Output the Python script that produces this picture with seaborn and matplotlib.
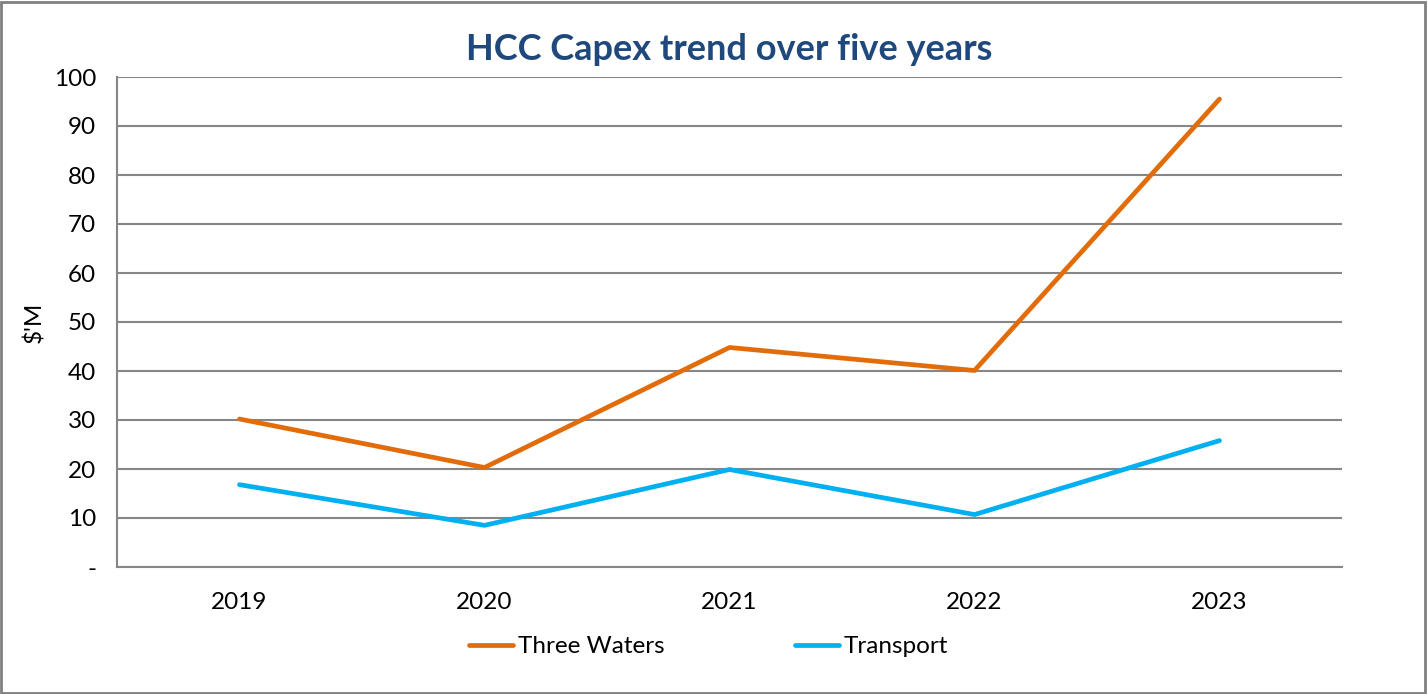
import numpy as np
import pandas as pd
import seaborn as sns
import matplotlib.pyplot as plt
from matplotlib.patches import Rectangle

years = ['2019', '2020', '2021', '2022', '2023']
three_waters = [30.2, 20.3, 44.8, 40.1, 95.5]
transport = [16.8, 8.5, 19.9, 10.7, 25.8]
y_ticks = [0, 10, 20, 30, 40, 50, 60, 70, 80, 90, 100]
y_labels = ['-'] + [str(v) for v in y_ticks[1:]]

df = pd.DataFrame({
    'year': years * 2,
    'value': three_waters + transport,
    'series': ['Three Waters'] * 5 + ['Transport'] * 5,
})

sns.set_style('white')
plt.rcParams['font.family'] = ['Lato', 'DejaVu Sans']
plt.rcParams['text.color'] = 'black'
plt.rcParams['xtick.color'] = 'black'
plt.rcParams['ytick.color'] = 'black'
plt.rcParams['axes.labelcolor'] = 'black'

fig = plt.figure(figsize=(14.28, 6.94), dpi=100)
ax = fig.add_axes([117 / 1428, 1 - 567 / 694, (1342 - 117) / 1428, (567 - 77) / 694])

grid_col = '#868686'
palette = {'Three Waters': '#E36C0A', 'Transport': '#00B0F0'}
sns.lineplot(data=df, x='year', y='value', hue='series', palette=palette,
             linewidth=3.4, ax=ax, sort=False)

ax.set_ylim(0, 100)
ax.set_xlim(-0.5, 4.5)
ax.set_yticks(y_ticks)
ax.set_yticklabels(y_labels, fontsize=17.5)
ax.yaxis.grid(True, color=grid_col, linewidth=1.5)
ax.set_axisbelow(True)

ax.set_xticks(np.arange(-0.5, 5, 1))
ax.set_xticklabels([])
ax.set_xticks(range(len(years)), minor=True)
ax.set_xticklabels(years, minor=True, fontsize=17.5)
ax.tick_params(axis='x', which='major', direction='out', length=9, width=1.5, color=grid_col)
ax.tick_params(axis='x', which='minor', length=0, pad=18)
ax.tick_params(axis='y', direction='out', length=9, width=1.5, color=grid_col, pad=6)

for side in ['top', 'right']:
    ax.spines[side].set_visible(False)
for side in ['left', 'bottom']:
    ax.spines[side].set_color(grid_col)
    ax.spines[side].set_linewidth(1.5)

ax.set_xlabel('')
ax.set_ylabel("$'M", fontsize=17.5, labelpad=6)
ax.set_title('HCC Capex trend over five years', fontsize=26, fontweight='bold',
             color='#1F497D', pad=12)

leg = ax.legend(loc='upper center', bbox_to_anchor=(0.483, -0.097), ncol=2, frameon=False,
                fontsize=17.5, handlelength=1.8, handletextpad=0.2, columnspacing=5.4)
for line in leg.get_lines():
    line.set_linewidth(3.4)

fig.patches.append(Rectangle((0.001, 0.002), 0.997, 0.995, transform=fig.transFigure,
                             fill=False, edgecolor='#808080', linewidth=2))

fig.savefig('out.png', dpi=100)
